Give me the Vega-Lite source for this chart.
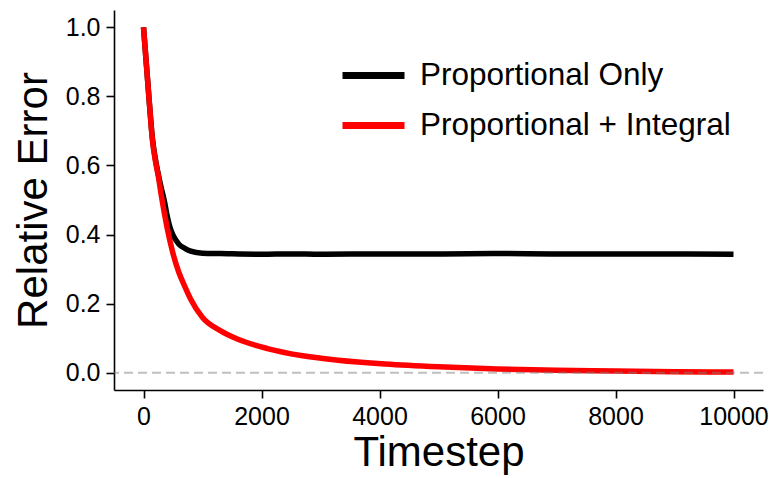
{
  "$schema": "https://vega.github.io/schema/vega-lite/v6.json",
  "width": 649,
  "height": 380,
  "autosize": {"type": "none"},
  "padding": {"left": 114, "top": 10, "right": 6, "bottom": 88},
  "background": "white",
  "config": {
    "view": {"stroke": null},
    "font": "Liberation Sans",
    "axis": {
      "grid": false,
      "domainColor": "black",
      "domainWidth": 1.6,
      "tickColor": "black",
      "tickWidth": 1.6,
      "tickSize": 8,
      "labelColor": "black",
      "labelFont": "Liberation Sans",
      "titleColor": "black",
      "titleFont": "Liberation Sans",
      "titleFontSize": 42,
      "titleFontWeight": "normal"
    }
  },
  "datasets": {
    "errors": [
      {"t": 0, "v": 1.0, "series": "Proportional Only"},
      {"t": 50, "v": 0.89, "series": "Proportional Only"},
      {"t": 100, "v": 0.78, "series": "Proportional Only"},
      {"t": 150, "v": 0.68, "series": "Proportional Only"},
      {"t": 200, "v": 0.62, "series": "Proportional Only"},
      {"t": 250, "v": 0.575, "series": "Proportional Only"},
      {"t": 300, "v": 0.535, "series": "Proportional Only"},
      {"t": 350, "v": 0.5, "series": "Proportional Only"},
      {"t": 400, "v": 0.455, "series": "Proportional Only"},
      {"t": 450, "v": 0.42, "series": "Proportional Only"},
      {"t": 500, "v": 0.398, "series": "Proportional Only"},
      {"t": 600, "v": 0.372, "series": "Proportional Only"},
      {"t": 700, "v": 0.36, "series": "Proportional Only"},
      {"t": 800, "v": 0.352, "series": "Proportional Only"},
      {"t": 1000, "v": 0.346, "series": "Proportional Only"},
      {"t": 1300, "v": 0.345, "series": "Proportional Only"},
      {"t": 2000, "v": 0.343, "series": "Proportional Only"},
      {"t": 2500, "v": 0.344, "series": "Proportional Only"},
      {"t": 3000, "v": 0.343, "series": "Proportional Only"},
      {"t": 4000, "v": 0.344, "series": "Proportional Only"},
      {"t": 5000, "v": 0.344, "series": "Proportional Only"},
      {"t": 6000, "v": 0.345, "series": "Proportional Only"},
      {"t": 7000, "v": 0.344, "series": "Proportional Only"},
      {"t": 8000, "v": 0.344, "series": "Proportional Only"},
      {"t": 9000, "v": 0.344, "series": "Proportional Only"},
      {"t": 10000, "v": 0.343, "series": "Proportional Only"},
      {"t": 0, "v": 1.0, "series": "Proportional + Integral"},
      {"t": 50, "v": 0.89, "series": "Proportional + Integral"},
      {"t": 100, "v": 0.78, "series": "Proportional + Integral"},
      {"t": 150, "v": 0.675, "series": "Proportional + Integral"},
      {"t": 200, "v": 0.615, "series": "Proportional + Integral"},
      {"t": 250, "v": 0.57, "series": "Proportional + Integral"},
      {"t": 300, "v": 0.515, "series": "Proportional + Integral"},
      {"t": 400, "v": 0.42, "series": "Proportional + Integral"},
      {"t": 500, "v": 0.345, "series": "Proportional + Integral"},
      {"t": 600, "v": 0.29, "series": "Proportional + Integral"},
      {"t": 700, "v": 0.25, "series": "Proportional + Integral"},
      {"t": 800, "v": 0.213, "series": "Proportional + Integral"},
      {"t": 1000, "v": 0.16, "series": "Proportional + Integral"},
      {"t": 1300, "v": 0.122, "series": "Proportional + Integral"},
      {"t": 1600, "v": 0.097, "series": "Proportional + Integral"},
      {"t": 2100, "v": 0.07, "series": "Proportional + Integral"},
      {"t": 2700, "v": 0.049, "series": "Proportional + Integral"},
      {"t": 3300, "v": 0.036, "series": "Proportional + Integral"},
      {"t": 4100, "v": 0.025, "series": "Proportional + Integral"},
      {"t": 5000, "v": 0.017, "series": "Proportional + Integral"},
      {"t": 6000, "v": 0.011, "series": "Proportional + Integral"},
      {"t": 7000, "v": 0.007, "series": "Proportional + Integral"},
      {"t": 8000, "v": 0.005, "series": "Proportional + Integral"},
      {"t": 9000, "v": 0.003, "series": "Proportional + Integral"},
      {"t": 10000, "v": 0.002, "series": "Proportional + Integral"}
    ],
    "zero": [{"level": 0}]
  },
  "data": {"name": "errors"},
  "encoding": {
    "x": {
      "field": "t",
      "type": "quantitative",
      "title": "Timestep",
      "scale": {"domain": [-500, 10500], "nice": false, "zero": false},
      "axis": {"values": [0, 2000, 4000, 6000, 8000, 10000], "format": "d", "labelFontSize": 25, "labelPadding": 6, "titlePadding": 3}
    },
    "y": {
      "field": "v",
      "type": "quantitative",
      "title": "Relative Error",
      "scale": {"domain": [-0.05, 1.05], "nice": false, "zero": false},
      "axis": {"values": [0, 0.2, 0.4, 0.6, 0.8, 1.0], "format": ".1f", "labelFontSize": 25, "labelPadding": 6, "titlePadding": 10}
    },
    "color": {
      "field": "series",
      "type": "nominal",
      "scale": {
        "domain": ["Proportional Only", "Proportional + Integral"],
        "range": ["black", "red"]
      },
      "legend": {
        "title": null,
        "orient": "none",
        "legendX": 225,
        "legendY": 31,
        "padding": 0,
        "symbolType": "stroke",
        "symbolSize": 3844,
        "symbolStrokeWidth": 7,
        "labelFont": "Liberation Sans",
        "labelFontSize": 31.5,
        "labelColor": "black",
        "labelOffset": 12,
        "rowPadding": -23,
        "labelLimit": 400
      }
    }
  },
  "layer": [
    {
      "transform": [{"filter": "datum.series === 'Proportional Only'"}],
      "mark": {"type": "line", "strokeWidth": 5.5, "strokeCap": "butt", "strokeJoin": "round", "interpolate": "monotone"}
    },
    {
      "transform": [{"filter": "datum.series === 'Proportional + Integral'"}],
      "mark": {"type": "line", "strokeWidth": 5.5, "strokeCap": "butt", "strokeJoin": "round", "interpolate": "monotone"}
    },
    {
      "data": {"name": "zero"},
      "mark": {"type": "rule", "color": "#808080", "opacity": 0.5, "strokeWidth": 2, "strokeDash": [9, 5]},
      "encoding": {
        "y": {"field": "level", "type": "quantitative"},
        "x": null,
        "color": null
      }
    }
  ]
}
